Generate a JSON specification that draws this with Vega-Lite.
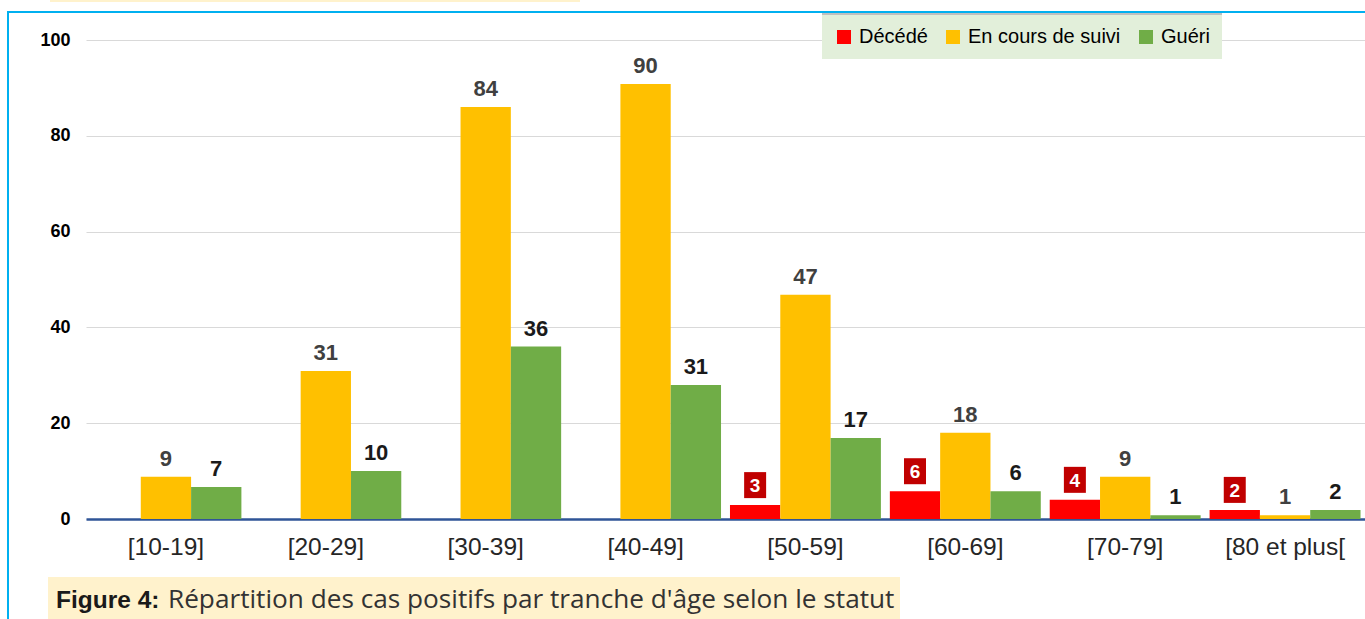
{
  "$schema": "https://vega.github.io/schema/vega-lite/v6.json",
  "width": 1279,
  "height": 479,
  "autosize": {"type": "none"},
  "padding": {"left": 86, "top": 40, "right": 0, "bottom": 100},
  "background": "white",
  "config": {
    "view": {"stroke": null},
    "font": "Liberation Sans"
  },
  "datasets": {
    "cases": [
      {"age": "[10-19]", "status": "En cours de suivi", "value": 8.8, "label": "9"},
      {"age": "[10-19]", "status": "Guéri", "value": 6.7, "label": "7"},
      {"age": "[20-29]", "status": "En cours de suivi", "value": 30.9, "label": "31"},
      {"age": "[20-29]", "status": "Guéri", "value": 10, "label": "10"},
      {"age": "[30-39]", "status": "En cours de suivi", "value": 86, "label": "84"},
      {"age": "[30-39]", "status": "Guéri", "value": 36, "label": "36"},
      {"age": "[40-49]", "status": "En cours de suivi", "value": 90.8, "label": "90"},
      {"age": "[40-49]", "status": "Guéri", "value": 28, "label": "31"},
      {"age": "[50-59]", "status": "Décédé", "value": 2.9, "label": "3"},
      {"age": "[50-59]", "status": "En cours de suivi", "value": 46.8, "label": "47"},
      {"age": "[50-59]", "status": "Guéri", "value": 16.9, "label": "17"},
      {"age": "[60-69]", "status": "Décédé", "value": 5.8, "label": "6"},
      {"age": "[60-69]", "status": "En cours de suivi", "value": 18, "label": "18"},
      {"age": "[60-69]", "status": "Guéri", "value": 5.8, "label": "6"},
      {"age": "[70-79]", "status": "Décédé", "value": 4, "label": "4"},
      {"age": "[70-79]", "status": "En cours de suivi", "value": 8.8, "label": "9"},
      {"age": "[70-79]", "status": "Guéri", "value": 0.8, "label": "1"},
      {"age": "[80 et plus[", "status": "Décédé", "value": 1.9, "label": "2"},
      {"age": "[80 et plus[", "status": "En cours de suivi", "value": 0.8, "label": "1"},
      {"age": "[80 et plus[", "status": "Guéri", "value": 1.9, "label": "2"}
    ],
    "caption": [
      {"bold": "Figure 4:", "rest": "Répartition des cas positifs par tranche d'âge selon le statut"}
    ]
  },
  "layer": [
    {
      "data": {"name": "caption"},
      "mark": {"type": "rect", "fill": "#FFF2CC"},
      "encoding": {"x": {"value": -38}, "x2": {"value": 814}, "y": {"value": 537}, "y2": {"value": 579}}
    },
    {
      "data": {"name": "caption"},
      "mark": {"type": "rect", "fill": "#FFF2CC"},
      "encoding": {"x": {"value": -36}, "x2": {"value": 494}, "y": {"value": -40}, "y2": {"value": -38}}
    },
    {
      "data": {"name": "caption"},
      "mark": {"type": "rect", "fill": null, "stroke": "#00B0F0", "strokeWidth": 2},
      "encoding": {"x": {"value": -78}, "x2": {"value": 1400}, "y": {"value": -28}, "y2": {"value": 700}}
    },
    {
      "data": {"name": "caption"},
      "mark": {"type": "rect", "fill": "#BFBFBF"},
      "encoding": {"x": {"value": 736}, "x2": {"value": 1136}, "y": {"value": -27}, "y2": {"value": -24}}
    },
    {
      "data": {"name": "caption"},
      "mark": {"type": "text", "font": "Liberation Sans", "fontWeight": "bold", "fontSize": 24.5, "align": "left", "baseline": "alphabetic", "color": "#1a1a1a"},
      "encoding": {"x": {"value": -30}, "y": {"value": 568}, "text": {"field": "bold"}}
    },
    {
      "data": {"name": "caption"},
      "mark": {"type": "text", "font": "Open Sans", "fontSize": 26.2, "align": "left", "baseline": "alphabetic", "color": "#333333"},
      "encoding": {"x": {"value": 82}, "y": {"value": 568}, "text": {"field": "rest"}}
    },
    {
      "data": {"name": "cases"},
      "mark": {"type": "bar"},
      "encoding": {
        "x": {
          "field": "age", "type": "nominal", "sort": null,
          "scale": {"paddingInner": 0.056, "paddingOuter": 0.028},
          "axis": {"title": null, "labelAngle": 0, "labelFontSize": 24.5, "labelColor": "#262626", "ticks": false, "domainColor": "#2F5597", "domainWidth": 2.5, "labelPadding": 16, "grid": false}
        },
        "xOffset": {"field": "status", "type": "nominal", "scale": {"domain": ["Décédé", "En cours de suivi", "Guéri"], "paddingInner": 0}},
        "y": {
          "field": "value", "type": "quantitative",
          "scale": {"domain": [0, 100]},
          "axis": {"title": null, "values": [0, 20, 40, 60, 80, 100], "labelFontSize": 18, "labelFontWeight": "bold", "labelColor": "#000000", "ticks": false, "domain": false, "gridColor": "#D9D9D9", "labelPadding": 16}
        },
        "color": {
          "field": "status", "type": "nominal",
          "scale": {"domain": ["Décédé", "En cours de suivi", "Guéri"], "range": ["#FF0000", "#FFC000", "#70AD47"]},
          "legend": {"orient": "none", "legendX": 736, "legendY": -25, "direction": "horizontal", "title": null, "fillColor": "#E2EFDA", "padding": 12, "symbolType": "square", "symbolSize": 196, "symbolStrokeWidth": 0, "labelFontSize": 20, "labelColor": "#000000", "columnPadding": 15, "labelOffset": 5}
        }
      }
    },
    {
      "data": {"name": "cases"},
      "transform": [{"filter": "datum.status !== 'Décédé'"}],
      "mark": {"type": "text", "fontSize": 22, "fontWeight": "bold", "baseline": "alphabetic", "dy": -11},
      "encoding": {
        "x": {"field": "age", "type": "nominal", "sort": null},
        "xOffset": {"field": "status", "type": "nominal"},
        "y": {"field": "value", "type": "quantitative"},
        "text": {"field": "label"},
        "color": {"condition": {"test": "datum.status === 'Guéri'", "value": "#1a1a1a"}, "value": "#404040"}
      }
    },
    {
      "data": {"name": "cases"},
      "transform": [{"filter": "datum.status === 'Décédé'"}],
      "mark": {"type": "point", "shape": "M-0.846,-1H0.846V1H-0.846Z", "filled": true, "fill": "#C00000", "opacity": 1, "strokeWidth": 0, "size": 676},
      "encoding": {
        "x": {"field": "age", "type": "nominal", "sort": null},
        "xOffset": {"field": "status", "type": "nominal"},
        "y": {"field": "value", "type": "quantitative"},
        "yOffset": {"value": -20}
      }
    },
    {
      "data": {"name": "cases"},
      "transform": [{"filter": "datum.status === 'Décédé'"}],
      "mark": {"type": "text", "fontSize": 19, "fontWeight": "bold", "baseline": "middle", "color": "#FFFFFF"},
      "encoding": {
        "x": {"field": "age", "type": "nominal", "sort": null},
        "xOffset": {"field": "status", "type": "nominal"},
        "y": {"field": "value", "type": "quantitative"},
        "yOffset": {"value": -19},
        "text": {"field": "label"}
      }
    }
  ]
}
